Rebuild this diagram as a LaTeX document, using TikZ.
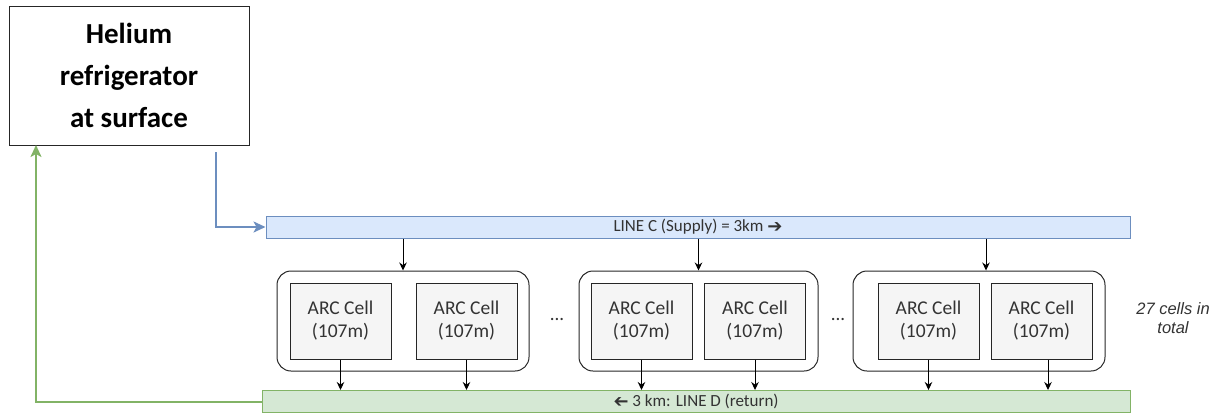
\documentclass[tikz,border=0pt]{standalone}
\usepackage{fontspec}
\setmainfont{Carlito}
\newfontfamily\arialfont{Liberation Sans}
\newfontfamily\symfont{DejaVu Sans}
\usepackage{graphicx}
\usetikzlibrary{arrows.meta,calc}
\definecolor{bluefill}{HTML}{DAE8FC}
\definecolor{bluestroke}{HTML}{6C8EBF}
\definecolor{greenfill}{HTML}{D5E8D4}
\definecolor{greenstroke}{HTML}{82B366}
\definecolor{cellfill}{HTML}{F5F5F5}
\definecolor{darktext}{HTML}{333333}
\tikzset{
  x=1pt, y=-1pt,
  linebox/.style={draw, line width=1pt, minimum height=22pt, inner sep=0pt,
    font=\fontsize{17}{19}\selectfont, text=darktext},
  groupbox/.style={draw=black!85, line width=1pt, rounded corners=14pt, minimum height=100pt, inner sep=0pt},
  cellbox/.style={draw=black!85, fill=cellfill, line width=1pt, minimum width=101pt, minimum height=76pt,
    inner sep=0pt, align=center, text=darktext, font=\fontsize{19.5}{23}\selectfont},
  flow/.style={line width=1pt, -{Stealth[length=8pt,width=7.5pt]}},
  feed/.style={line width=2pt, -{Stealth[length=12pt,width=11pt,inset=3pt]}},
  dots/.style={inner sep=0pt, text=darktext, font=\fontsize{19}{23}\selectfont},
  arrowglyph/.style={},
}
\newcommand{\bigarrow}{{\symfont\bfseries\fontsize{18}{18}\selectfont\raisebox{-0.5pt}{➔}}}
\begin{document}
\begin{tikzpicture}
\useasboundingbox (0,0) rectangle (1222,416);
% refrigerator
\node[draw=black!85, line width=1pt, fill=white, minimum width=240pt, minimum height=139pt,
  inner sep=0pt, align=center, font=\bfseries\fontsize{29}{42}\selectfont] (helium) at (129,75.5)
  {Helium\\refrigerator\\at surface};
% lines
\node[linebox, fill=bluefill, draw=bluestroke, minimum width=864pt] (lineC) at (698,227)
  {LINE C (Supply) = 3km \bigarrow};
\node[linebox, fill=greenfill, draw=greenstroke, minimum width=868pt] (lineD) at (696,401.5)
  {\reflectbox{\bigarrow} 3 km: LINE D (return)};
% groups
\node[groupbox, minimum width=252pt] (g1) at (403,321) {};
\node[groupbox, minimum width=239pt] (g2) at (698.5,321) {};
\node[groupbox, minimum width=252pt] (g3) at (979,321) {};
% cells
\node[cellbox] (c1) at (340.5,321) {ARC Cell\\(107m)};
\node[cellbox] (c2) at (466.5,321) {ARC Cell\\(107m)};
\node[cellbox] (c3) at (641.5,321) {ARC Cell\\(107m)};
\node[cellbox] (c4) at (755,321) {ARC Cell\\(107m)};
\node[cellbox] (c5) at (928.5,321) {ARC Cell\\(107m)};
\node[cellbox] (c6) at (1041.5,321) {ARC Cell\\(107m)};
% dots
\node[dots] (d1) at (557,319) {...};
\node[dots] (d2) at (838,319) {...};
% note
\node[inner sep=0pt, align=center, text=darktext, font=\arialfont\itshape\fontsize{16.5}{19.5}\selectfont] (note) at (1173,318)
  {27 cells in\\total};
% supply arrows
\draw[flow] (g1.north |- lineC.south) -- (g1.north);
\draw[flow] (g2.north |- lineC.south) -- (g2.north);
\draw[flow] ([xshift=7pt]g3.north |- lineC.south) -- ([xshift=7pt]g3.north);
% return arrows
\foreach \c in {c1,c2,c3,c4,c5}{
  \draw[flow] (\c.south) -- (\c.south |- lineD.north);
}
\draw[flow] ([xshift=6.5pt]c6.south) -- ([xshift=6.5pt]c6.south |- lineD.north);
% refrigerator feeds
\coordinate (bstart) at (216,152);
\draw[feed, bluestroke] (bstart) |- (lineC.west);
\coordinate (gend) at (36,145);
\draw[feed, greenstroke] (lineD.west) -| (gend);
\end{tikzpicture}
\end{document}
